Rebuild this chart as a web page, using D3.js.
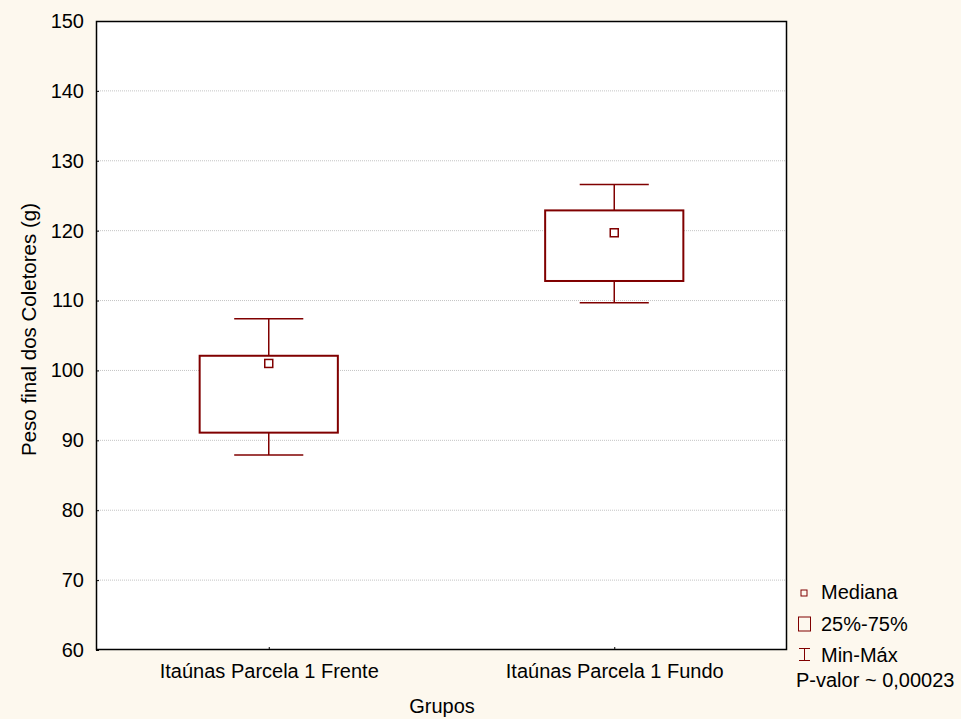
<!DOCTYPE html>
<html>
<head>
<meta charset="utf-8">
<script src="https://cdn.jsdelivr.net/npm/d3@7"></script>
<style>
  html, body { margin: 0; padding: 0; background: #fdf8ee; }
  svg { display: block; font-family: "Liberation Sans", Arial, sans-serif; }
</style>
</head>
<body>
<svg id="chart" width="961" height="719"></svg>
<script>
// Groups and their summary statistics (g)
const groups = ["Itaúnas Parcela 1 Frente", "Itaúnas Parcela 1 Fundo"];
const minValues = [87.9, 109.7];
const q1Values = [91.1, 112.8];
const medianValues = [101.0, 119.7];
const q3Values = [102.1, 122.9];
const maxValues = [107.4, 126.6];
const yTicks = [60, 70, 80, 90, 100, 110, 120, 130, 140, 150];
const legendLabels = ["Mediana", "25%-75%", "Min-Máx"];
const pValueText = "P-valor ~ 0,00023";

const boxColor = "#800000";
const fontSize = "20px";
const svg = d3.select("#chart");
const plot = { left: 96, right: 787, top: 21, bottom: 650 };

const x = d3.scalePoint().domain(groups).range([plot.left, plot.right]).padding(0.5);
const y = d3.scaleLinear().domain([60, 150]).range([plot.bottom, plot.top]);

// plot background
svg.append("rect")
  .attr("x", plot.left).attr("y", plot.top)
  .attr("width", plot.right - plot.left).attr("height", plot.bottom - plot.top)
  .attr("fill", "#ffffff");

// dotted horizontal grid lines
svg.append("g").selectAll("line")
  .data(yTicks.filter(t => t > 60 && t < 150))
  .join("line")
  .attr("x1", plot.left).attr("x2", plot.right)
  .attr("y1", d => y(d)).attr("y2", d => y(d))
  .attr("stroke", "#c4c4c4").attr("stroke-width", 1)
  .attr("stroke-dasharray", "1,1");

// axes
const yAxis = svg.append("g")
  .attr("transform", `translate(${plot.left},0)`)
  .call(d3.axisLeft(y).tickValues(yTicks).tickSize(-3).tickPadding(12));
const xAxis = svg.append("g")
  .attr("transform", `translate(0,${plot.bottom})`)
  .call(d3.axisBottom(x).tickSize(-3).tickPadding(14));
[yAxis, xAxis].forEach(a => {
  a.select(".domain").remove();
  a.selectAll("line").attr("stroke", "#000");
  a.selectAll("text").attr("fill", "#000").style("font-size", fontSize)
    .style("font-family", "'Liberation Sans', Arial, sans-serif");
});

// frame
svg.append("rect")
  .attr("x", plot.left + 0.5).attr("y", plot.top + 0.5)
  .attr("width", plot.right - plot.left - 1).attr("height", plot.bottom - plot.top - 1)
  .attr("fill", "none").attr("stroke", "#000").attr("stroke-width", 1.5);

// box plots
const step = x.step();
const boxW = step * 0.4;
const capW = boxW / 2;
const data = groups.map((g, i) => ({
  g, min: minValues[i], q1: q1Values[i], med: medianValues[i], q3: q3Values[i], max: maxValues[i]
}));

const boxes = svg.append("g").selectAll("g").data(data).join("g");
boxes.append("line")
  .attr("x1", d => x(d.g)).attr("x2", d => x(d.g))
  .attr("y1", d => y(d.max)).attr("y2", d => y(d.q3))
  .attr("stroke", boxColor).attr("stroke-width", 1.5);
boxes.append("line")
  .attr("x1", d => x(d.g)).attr("x2", d => x(d.g))
  .attr("y1", d => y(d.q1)).attr("y2", d => y(d.min))
  .attr("stroke", boxColor).attr("stroke-width", 1.5);
boxes.append("line")
  .attr("x1", d => x(d.g) - capW / 2).attr("x2", d => x(d.g) + capW / 2)
  .attr("y1", d => y(d.max)).attr("y2", d => y(d.max))
  .attr("stroke", boxColor).attr("stroke-width", 1.5);
boxes.append("line")
  .attr("x1", d => x(d.g) - capW / 2).attr("x2", d => x(d.g) + capW / 2)
  .attr("y1", d => y(d.min)).attr("y2", d => y(d.min))
  .attr("stroke", boxColor).attr("stroke-width", 1.5);
boxes.append("rect")
  .attr("x", d => x(d.g) - boxW / 2).attr("width", boxW)
  .attr("y", d => y(d.q3)).attr("height", d => y(d.q1) - y(d.q3))
  .attr("fill", "#fff").attr("stroke", boxColor).attr("stroke-width", 2);
boxes.append("rect")
  .attr("x", d => x(d.g) - 4).attr("y", d => y(d.med) - 4)
  .attr("width", 8).attr("height", 8)
  .attr("fill", "#fff").attr("stroke", boxColor).attr("stroke-width", 1.5);

// axis titles
svg.append("text")
  .attr("transform", `translate(36,${(202 + 457) / 2}) rotate(-90)`)
  .attr("text-anchor", "middle")
  .style("font-size", "20.5px")
  .text("Peso final dos Coletores (g)");
svg.append("text")
  .attr("x", 442).attr("y", 713)
  .attr("text-anchor", "middle")
  .style("font-size", fontSize)
  .text("Grupos");

// legend
const legend = svg.append("g");
const legendBaselines = [599, 631, 662];
legendLabels.forEach((lab, i) => {
  legend.append("text")
    .attr("x", 821).attr("y", legendBaselines[i])
    .style("font-size", fontSize).text(lab);
});
legend.append("rect")
  .attr("x", 801).attr("y", 590).attr("width", 6).attr("height", 6)
  .attr("fill", "none").attr("stroke", boxColor).attr("stroke-width", 1);
legend.append("rect")
  .attr("x", 798.5).attr("y", 617).attr("width", 12).attr("height", 14)
  .attr("fill", "none").attr("stroke", boxColor).attr("stroke-width", 1);
legend.append("line")
  .attr("x1", 804.5).attr("x2", 804.5).attr("y1", 648).attr("y2", 661)
  .attr("stroke", boxColor).attr("stroke-width", 1);
legend.append("line")
  .attr("x1", 799).attr("x2", 810).attr("y1", 648.5).attr("y2", 648.5)
  .attr("stroke", boxColor).attr("stroke-width", 1);
legend.append("line")
  .attr("x1", 799).attr("x2", 810).attr("y1", 660.5).attr("y2", 660.5)
  .attr("stroke", boxColor).attr("stroke-width", 1);
legend.append("text")
  .attr("x", 796).attr("y", 687)
  .style("font-size", fontSize).text(pValueText);
</script>
</body>
</html>
